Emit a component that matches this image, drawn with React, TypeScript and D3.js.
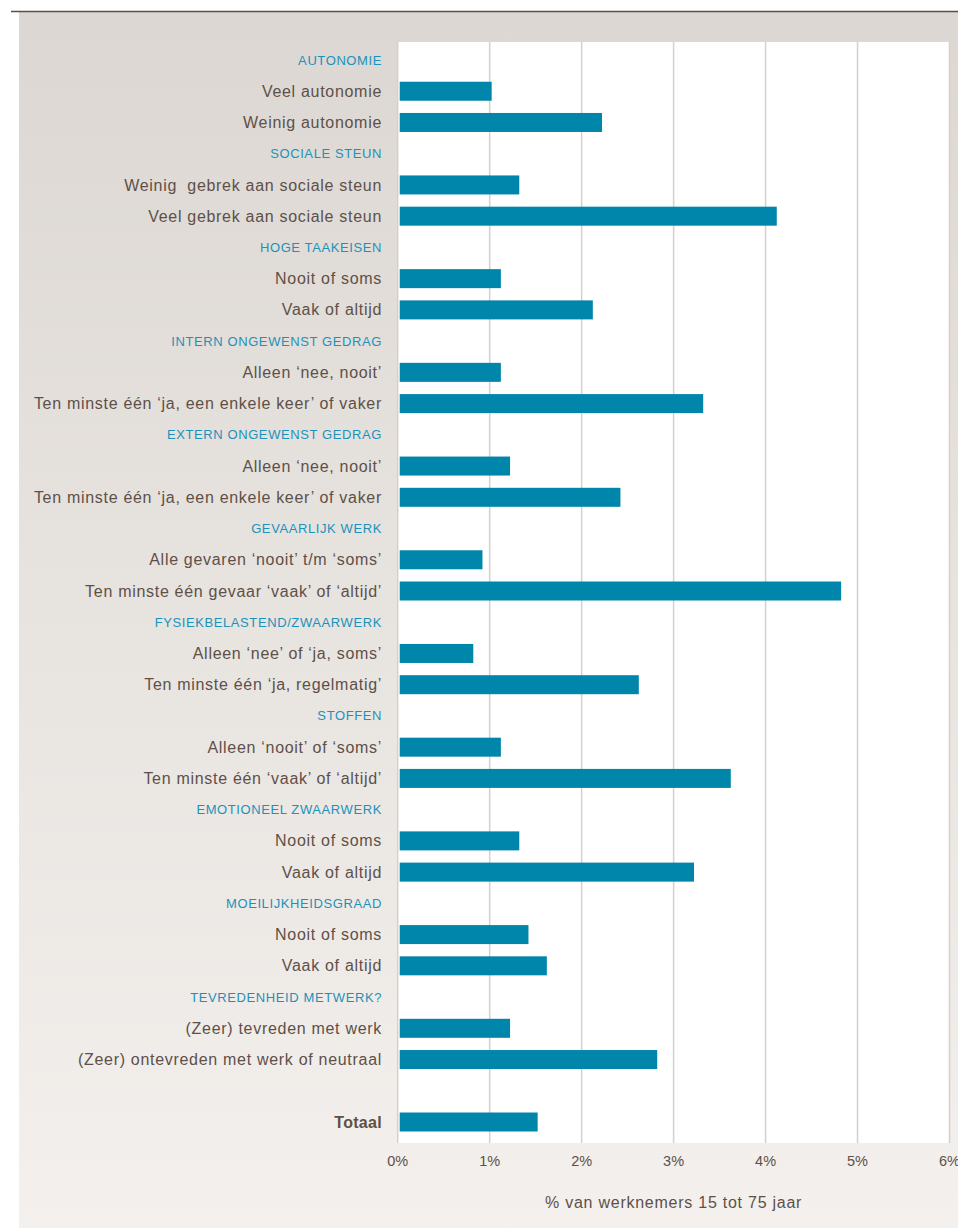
import React from "react";
import * as d3 from "d3";

type Row = { label: string; value: number | null; kind: "header" | "item" | "blank" | "total" };

const groups = [
  "AUTONOMIE",
  "SOCIALE STEUN",
  "HOGE TAAKEISEN",
  "INTERN ONGEWENST GEDRAG",
  "EXTERN ONGEWENST GEDRAG",
  "GEVAARLIJK WERK",
  "FYSIEKBELASTEND/ZWAARWERK",
  "STOFFEN",
  "EMOTIONEEL ZWAARWERK",
  "MOEILIJKHEIDSGRAAD",
  "TEVREDENHEID METWERK?",
];

const itemLabels = [
  ["Veel autonomie", "Weinig autonomie"],
  ["Weinig  gebrek aan sociale steun", "Veel gebrek aan sociale steun"],
  ["Nooit of soms", "Vaak of altijd"],
  ["Alleen \u2018nee, nooit\u2019", "Ten minste één \u2018ja, een enkele keer\u2019 of vaker"],
  ["Alleen \u2018nee, nooit\u2019", "Ten minste één \u2018ja, een enkele keer\u2019 of vaker"],
  ["Alle gevaren \u2018nooit\u2019 t/m \u2018soms\u2019", "Ten minste één gevaar \u2018vaak\u2019 of \u2018altijd\u2019"],
  ["Alleen \u2018nee\u2019 of \u2018ja, soms\u2019", "Ten minste één \u2018ja, regelmatig\u2019"],
  ["Alleen \u2018nooit\u2019 of \u2018soms\u2019", "Ten minste één \u2018vaak\u2019 of \u2018altijd\u2019"],
  ["Nooit of soms", "Vaak of altijd"],
  ["Nooit of soms", "Vaak of altijd"],
  ["(Zeer) tevreden met werk", "(Zeer) ontevreden met werk of neutraal"],
];

const itemValues = [
  [1.0, 2.2],
  [1.3, 4.1],
  [1.1, 2.1],
  [1.1, 3.3],
  [1.2, 2.4],
  [0.9, 4.8],
  [0.8, 2.6],
  [1.1, 3.6],
  [1.3, 3.2],
  [1.4, 1.6],
  [1.2, 2.8],
];

const totalLabel = "Totaal";
const totalValue = 1.5;

const tickValues = [0, 1, 2, 3, 4, 5, 6];
const axisTitle = "% van werknemers 15 tot 75 jaar";

const rows: Row[] = [];
groups.forEach((g, i) => {
  rows.push({ label: g, value: null, kind: "header" });
  itemLabels[i].forEach((l, j) => rows.push({ label: l, value: itemValues[i][j], kind: "item" }));
});
rows.push({ label: "", value: null, kind: "blank" });
rows.push({ label: totalLabel, value: totalValue, kind: "total" });

export default function App() {
  const W = 958;
  const H = 1228;
  const plotLeft = 397.7;
  const plotRight = 949.5;
  const plotTop = 42;
  const plotBottom = 1143;

  const x = d3.scaleLinear().domain([0, 6]).range([plotLeft, plotRight]);
  const y = d3
    .scalePoint<number>()
    .domain(rows.map((_, i) => i))
    .range([60, 1122]);

  const barH = 19;
  const textColor = "#5e5048";
  const blue = "#1b92bb";
  const barColor = "#0085ab";
  const font = "'Liberation Sans', Arial, sans-serif";

  return (
    <svg width={W} height={H} style={{ display: "block", position: "absolute", left: 0, top: 0 }}>
      <defs>
        <linearGradient id="bg" x1="0" y1="0" x2="0" y2="1">
          <stop offset="0%" stopColor="#dcd7d2" />
          <stop offset="100%" stopColor="#f3f0ed" />
        </linearGradient>
      </defs>
      <rect x={0} y={0} width={W} height={H} fill="#ffffff" />
      <rect x={19} y={12} width={W - 19} height={H - 12} fill="url(#bg)" />
      <line x1={11} x2={W} y1={11.5} y2={11.5} stroke="#5a5047" strokeWidth={1.6} />
      <rect x={plotLeft} y={plotTop} width={plotRight - plotLeft} height={plotBottom - plotTop} fill="#ffffff" />
      {tickValues.map((t) => (
        <line
          key={"g" + t}
          x1={x(t)}
          x2={x(t)}
          y1={plotTop}
          y2={plotBottom}
          stroke="#d8cfc9"
          strokeWidth={1.5}
        />
      ))}
      {rows.map((r, i) =>
        r.value !== null ? (
          <rect
            key={"b" + i}
            x={x(0) + 2}
            y={(y(i) as number) - barH / 2}
            width={x(r.value) - x(0)}
            height={barH}
            fill={barColor}
          />
        ) : null
      )}
      {rows.map((r, i) => {
        if (r.kind === "blank") return null;
        const isHeader = r.kind === "header";
        return (
          <text
            key={"t" + i}
            x={382}
            y={y(i) as number}
            dy="0.35em"
            textAnchor="end"
            fontFamily={font}
            fontSize={isHeader ? 13 : 16}
            letterSpacing={isHeader ? 0.6 : r.kind === "total" ? 0.3 : 0.7}
            fontWeight={r.kind === "total" ? "bold" : "normal"}
            fill={isHeader ? blue : textColor}
            style={{ whiteSpace: "pre" }}
          >
            {r.label}
          </text>
        );
      })}
      {tickValues.map((t) => (
        <text
          key={"tl" + t}
          x={x(t)}
          y={1161}
          dy="0.35em"
          textAnchor="middle"
          fontFamily={font}
          fontSize={14.5}
          fill={textColor}
        >
          {t + "%"}
        </text>
      ))}
      <text
        x={(plotLeft + plotRight) / 2}
        y={1202}
        dy="0.35em"
        textAnchor="middle"
        fontFamily={font}
        fontSize={16}
        letterSpacing={0.75}
        fill={textColor}
      >
        {axisTitle}
      </text>
    </svg>
  );
}
